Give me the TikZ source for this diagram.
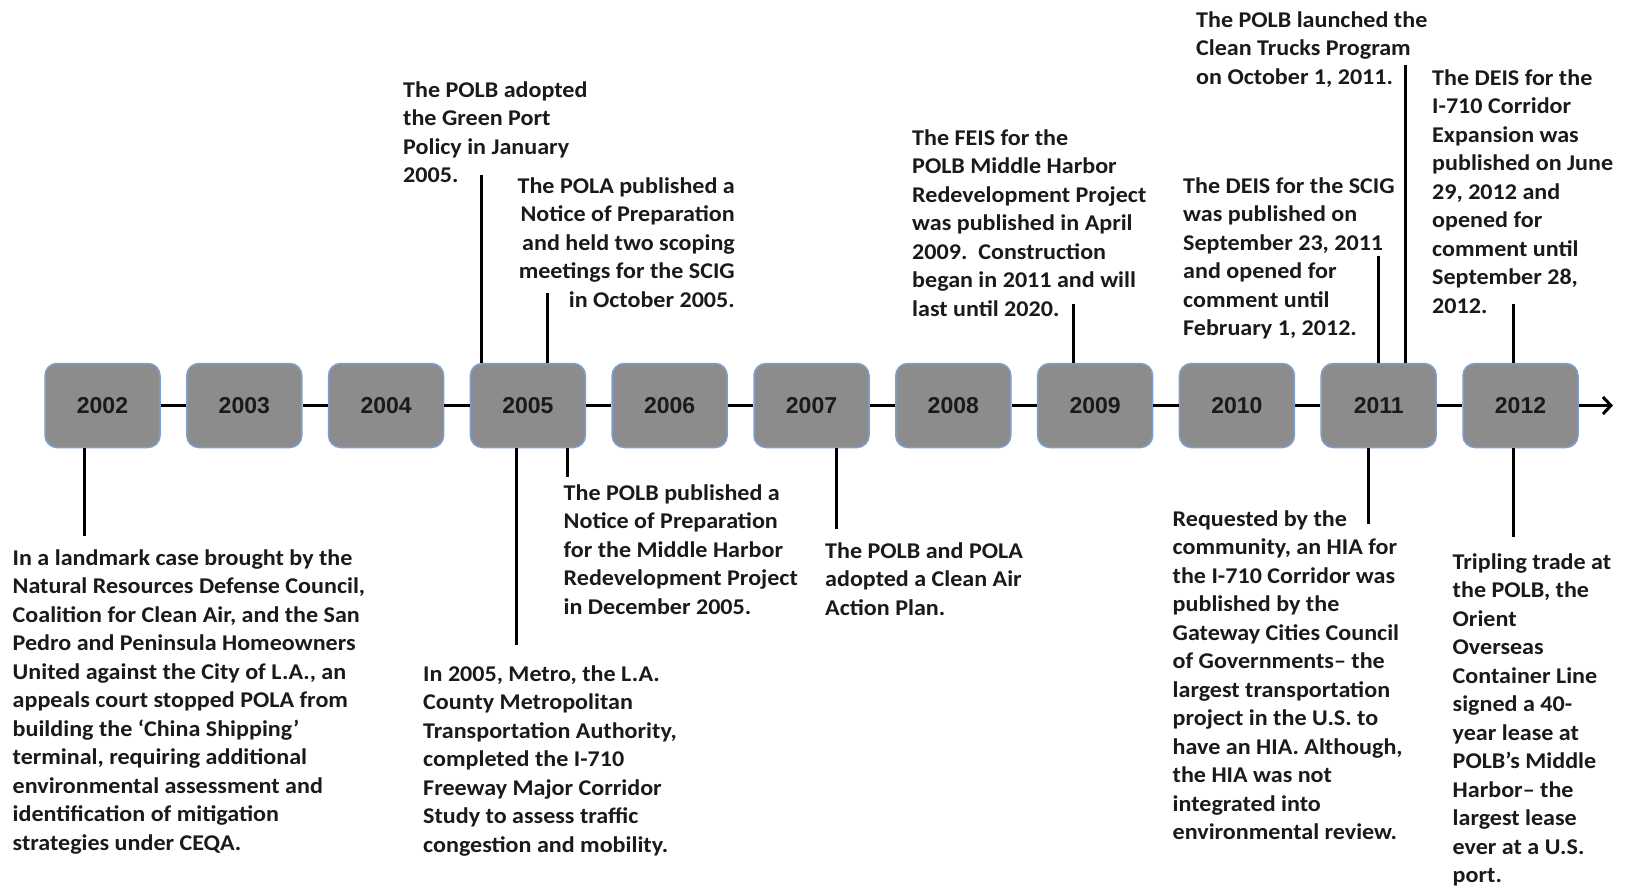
\documentclass[tikz,border=0pt]{standalone}
\usepackage{fontspec}
\setmainfont{Carlito}[FakeStretch=1.07]
\newfontfamily\yearfont{Liberation Sans}
\usetikzlibrary{arrows.meta}
\definecolor{boxgray}{HTML}{8C8C8C}
\definecolor{boxedge}{HTML}{7E9FCB}
\definecolor{txt}{HTML}{1A1A1A}
\begin{document}
\begin{tikzpicture}[x=1pt,y=-1pt,
  yearbox/.style={draw=boxedge, line width=1.5pt, fill=boxgray, rounded corners=12pt,
    minimum width=115pt, minimum height=84pt, inner sep=0pt,
    font=\yearfont\bfseries\fontsize{23}{26}\selectfont, text=txt},
  desc/.style={inner sep=0pt, anchor=north west, align=left, text=txt,
    font=\bfseries\fontsize{22.5}{28.5}\selectfont},
  descr/.style={desc, anchor=north east, align=right},
  link/.style={line width=3pt, black},
  axis/.style={line width=3.5pt, black}]
\useasboundingbox (0,0) rectangle (1627,889);
\fill[white] (0,0) rectangle (1627,889);

% year boxes
\foreach \yr/\i in {02/0,03/1,04/2,05/3,06/4,07/5,08/6,09/7,10/8,11/9,12/10}{
  \node[yearbox] (y\yr) at ({102.5+141.8*\i},405.5) {20\yr};
}
% timeline
\foreach \a/\b in {02/03,03/04,04/05,05/06,06/07,07/08,08/09,09/10,10/11,11/12}{
  \draw[axis] (y\a.east) -- (y\b.west);
}
\coordinate (arrowend) at (1613,405.5);
\draw[axis, -{Straight Barb[length=8pt,width=17pt,line width=3pt]}] (y12.east) -- (arrowend);

% connector end points
\coordinate (c1) at (84,536);
\coordinate (c2) at (481,175);
\coordinate (c3) at (547,293);
\coordinate (c4) at (516,645);
\coordinate (c5) at (567,477);
\coordinate (c6) at (836,529);
\coordinate (c7) at (1073,304);
\coordinate (c8) at (1378,256);
\coordinate (c9) at (1405,65);
\coordinate (c10) at (1513,304);
\coordinate (c11) at (1368,524);
\coordinate (c12) at (1513,537);

\draw[link] (y02.south -| c1) -- (c1);
\draw[link] (y05.north -| c2) -- (c2);
\draw[link] (y05.north -| c3) -- (c3);
\draw[link] (y05.south -| c4) -- (c4);
\draw[link] (y05.south -| c5) -- (c5);
\draw[link] (y07.south -| c6) -- (c6);
\draw[link] (y09.north -| c7) -- (c7);
\draw[link] (y11.north -| c8) -- (c8);
\draw[link] (y11.north -| c9) -- (c9);
\draw[link] (y12.north -| c10) -- (c10);
\draw[link] (y11.south -| c11) -- (c11);
\draw[link] (y12.south -| c12) -- (c12);

% descriptions
\node[desc] (t1) at (12.5,545) {\strut In a landmark case brought by the\\Natural Resources Defense Council,\\Coalition for Clean Air, and the San\\Pedro and Peninsula Homeowners\\United against the City of L.A., an\\appeals court stopped POLA from\\building the ‘China Shipping’\\terminal, requiring additional\\environmental assessment and\\identification of mitigation\\strategies under CEQA.};

\node[desc] (t2) at (403,77) {\strut The POLB adopted\\the Green Port\\Policy in January\\2005.};

\node[descr] (t3) at (735,173) {\strut The POLA published a\\Notice of Preparation\\and held two scoping\\meetings for the SCIG\\in October 2005.};

\node[desc] (t4) at (423,661) {\strut In 2005, Metro, the L.A.\\County Metropolitan\\Transportation Authority,\\completed the I-710\\Freeway Major Corridor\\Study to assess traffic\\congestion and mobility.};

\node[desc] (t5) at (563.5,480) {\strut The POLB published a\\Notice of Preparation\\for the Middle Harbor\\Redevelopment Project\\in December 2005.};

\node[desc] (t6) at (825,538) {\strut The POLB and POLA\\adopted a Clean Air\\Action Plan.};

\node[desc] (t7) at (912,125) {\strut The FEIS for the\\POLB Middle Harbor\\Redevelopment Project\\was published in April\\2009.\ \ Construction\\began in 2011 and will\\last until 2020.};

\node[desc] (t8) at (1183,173) {\strut The DEIS for the SCIG\\was published on\\September 23, 2011\\and opened for\\comment until\\February 1, 2012.};

\node[desc] (t9) at (1196,7) {\strut The POLB launched the\\Clean Trucks Program\\on October 1, 2011.};

\node[desc] (t10) at (1432,65) {\strut The DEIS for the\\I-710 Corridor\\Expansion was\\published on June\\29, 2012 and\\opened for\\comment until\\September 28,\\2012.};

\node[desc] (t11) at (1172.5,506) {\strut Requested by the\\community, an HIA for\\the I-710 Corridor was\\published by the\\Gateway Cities Council\\of Governments– the\\largest transportation\\project in the U.S. to\\have an HIA. Although,\\the HIA was not\\integrated into\\environmental review.};

\node[desc] (t12) at (1452.5,549) {\strut Tripling trade at\\the POLB, the\\Orient\\Overseas\\Container Line\\signed a 40-\\year lease at\\POLB’s Middle\\Harbor– the\\largest lease\\ever at a U.S.\\port.};
\end{tikzpicture}
\end{document}
